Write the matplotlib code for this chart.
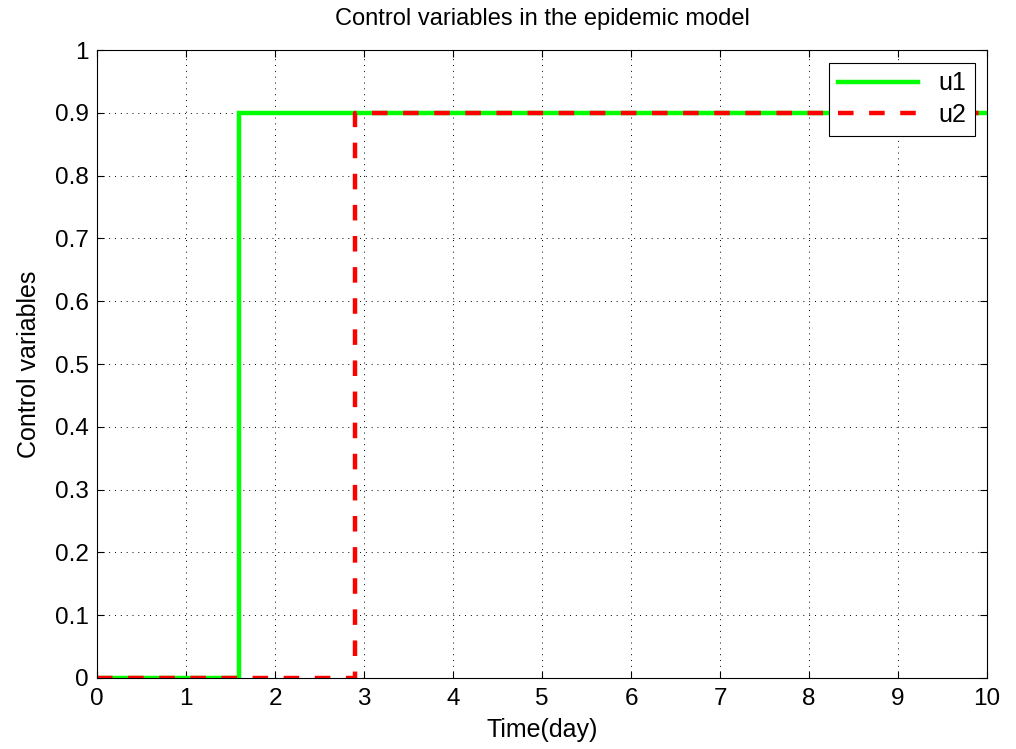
import numpy as np
import matplotlib
matplotlib.use("Agg")
from matplotlib import pyplot as plt

plt.rcParams['font.family'] = ['Liberation Sans', 'DejaVu Sans']

# switching times and control levels
t_u1 = [0, 1.6, 1.6, 10]
u1 = [0, 0, 0.9, 0.9]
t_u2 = [0, 2.9, 2.9, 10]
u2 = [0, 0, 0.9, 0.9]

xticks = np.arange(0, 11, 1)
yticks = np.round(np.arange(0, 1.01, 0.1), 1)
yticklabels = ['0', '0.1', '0.2', '0.3', '0.4', '0.5', '0.6', '0.7', '0.8', '0.9', '1']

fig = plt.figure(figsize=(10.16, 7.49), dpi=100)
ax = fig.add_axes([0.0955, 0.0948, 0.876, 0.8384])

ax.plot(t_u1, u1, color='#00ff00', lw=3.2, label='u1', solid_joinstyle='miter')
ax.plot(t_u2, u2, color='#ff0000', lw=3.2, ls=(0, (3.5, 3.5)), label='u2')

ax.set_xlim(0, 10)
ax.set_ylim(0, 1)
ax.set_xticks(xticks)
ax.set_yticks(yticks)
ax.set_yticklabels(yticklabels)
ax.tick_params(direction='in', labelsize=17.5, length=5, top=True, right=True)
ax.tick_params(axis='x', pad=7)
ax.tick_params(axis='y', pad=6)
ax.grid(True, color='black', ls=(0, (1, 5)), lw=0.7)
for s in ax.spines.values():
    s.set_linewidth(0.8)

ax.set_xlabel('Time(day)', fontsize=18, labelpad=6)
ax.set_ylabel('Control variables', fontsize=18, labelpad=10)
ax.set_title('Control variables in the epidemic model', fontsize=17, pad=18)

leg = ax.legend(loc='upper right', fontsize=18, fancybox=False, framealpha=1,
                edgecolor='black', borderaxespad=0.5, handlelength=3.2,
                labelspacing=0.3, borderpad=0.35)
leg.get_frame().set_linewidth(0.8)

fig.savefig('out.png', dpi=100)
